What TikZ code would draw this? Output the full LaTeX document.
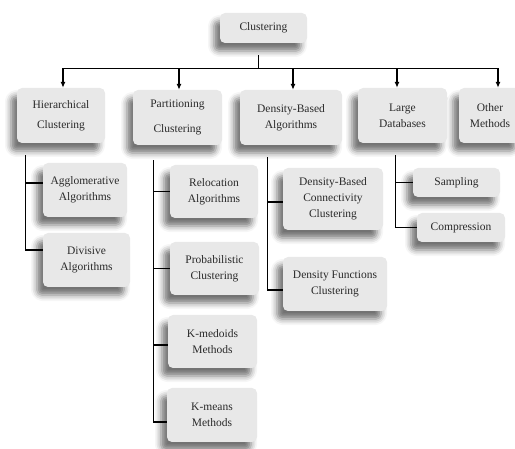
\documentclass[tikz,border=0pt]{standalone}
\usepackage{fontspec}
\setmainfont{Liberation Serif}
\usetikzlibrary{arrows.meta,shadows.blur,calc}
\definecolor{boxfill}{HTML}{E8E8E8}
\definecolor{txt}{HTML}{2A2A2A}
\begin{document}
\begin{tikzpicture}[x=1pt,y=-1pt,
  box/.style 2 args={draw=none, fill=boxfill, rounded corners=5pt, align=center,
    inner sep=0pt, text=txt, font=\fontsize{11.5}{16}\selectfont,
    minimum width=#1pt, minimum height=#2pt,
    blur shadow={shadow xshift=-6pt, shadow yshift=-8pt, shadow blur radius=6pt, shadow opacity=55}},
  conn/.style={line width=1.3pt, black},
  arr/.style={conn, -{Latex[length=6pt,width=5pt]}}]
\useasboundingbox (0,0) rectangle (515,449);

% root
\node[box={87}{30}] (root) at (263.5,28) {Clustering};

% level 1
\node[box={88}{55}] (hier)  at (61,115.5)  {Hierarchical\\[4pt]Clustering};
\node[box={89}{55}] (part)  at (177.5,117.5) {Partitioning\\[9pt]Clustering};
\node[box={102}{55}] (dens) at (291,117.5) {Density-Based\\Algorithms};
\node[box={89}{55}] (large) at (402.5,115.5) {Large\\Databases};
\node[box={62}{55}] (other) at (490,115.5) {Other\\Methods};

% level 2
\node[box={84}{54}] (agg)   at (85,190)    {Agglomerative\\Algorithms};
\node[box={87}{54}] (div)   at (86.5,260)  {Divisive\\Algorithms};
\node[box={88}{53}] (reloc) at (214,191.5) {Relocation\\Algorithms};
\node[box={89}{53}] (prob)  at (214.5,268.5) {Probabilistic\\Clustering};
\node[box={89}{53}] (kmed)  at (212.5,341.5) {K-medoids\\Methods};
\node[box={90}{54}] (kmeans) at (212,415)  {K-means\\Methods};
\node[box={100}{62}] (conn) at (333,199)   {Density-Based\\Connectivity\\Clustering};
\node[box={104}{54}] (func) at (335,284)   {Density Functions\\Clustering};
\node[box={87}{29}] (samp)  at (456.5,182.5) {Sampling};
\node[box={88}{29}] (comp)  at (461,227.5) {Compression};

% root to level 1
\coordinate (rs) at ([xshift=-5pt,yshift=-12pt]root.south);
\coordinate (bus) at ($(rs)+(0,13)$);
\coordinate (a1) at ([xshift=2pt]hier.north);
\coordinate (a2) at ([xshift=1.5pt]part.north);
\coordinate (a3) at ([xshift=2pt]dens.north);
\coordinate (a4) at ([xshift=-5.5pt]large.north);
\coordinate (a5) at ([xshift=8pt]other.north);
\draw[conn] (rs) -- (bus);
\draw[conn, line cap=rect] (bus -| a1) -- (bus -| a5);
\foreach \a in {a1,a2,a3,a4,a5} \draw[arr] (bus -| \a) -- (\a);

% hierarchical subtree
\coordinate (ht) at ([xshift=9pt,yshift=-12pt]hier.south west);
\draw[conn] (ht) |- ([yshift=7pt]agg.west);
\draw[conn] (ht) |- ([yshift=10pt]div.west);

% partitioning subtree
\coordinate (pt) at ([xshift=21pt,yshift=-15pt]part.south west);
\draw[conn] (pt) |- (reloc.west);
\draw[conn] (pt) |- (prob.west);
\draw[conn] (pt) |- ([yshift=-3.5pt]kmed.west);
\draw[conn] (pt) |- ([yshift=-7pt]kmeans.west);

% density subtree
\coordinate (dt) at ([xshift=28pt,yshift=-12pt]dens.south west);
\draw[conn] (dt) |- ([yshift=-3pt]conn.west);
\draw[conn] (dt) |- ([yshift=-6pt]func.west);

% large databases subtree
\coordinate (lt) at ([xshift=38pt,yshift=-12pt]large.south west);
\draw[conn] (lt) |- (samp.west);
\draw[conn] (lt) |- (comp.west);
\end{tikzpicture}
\end{document}
